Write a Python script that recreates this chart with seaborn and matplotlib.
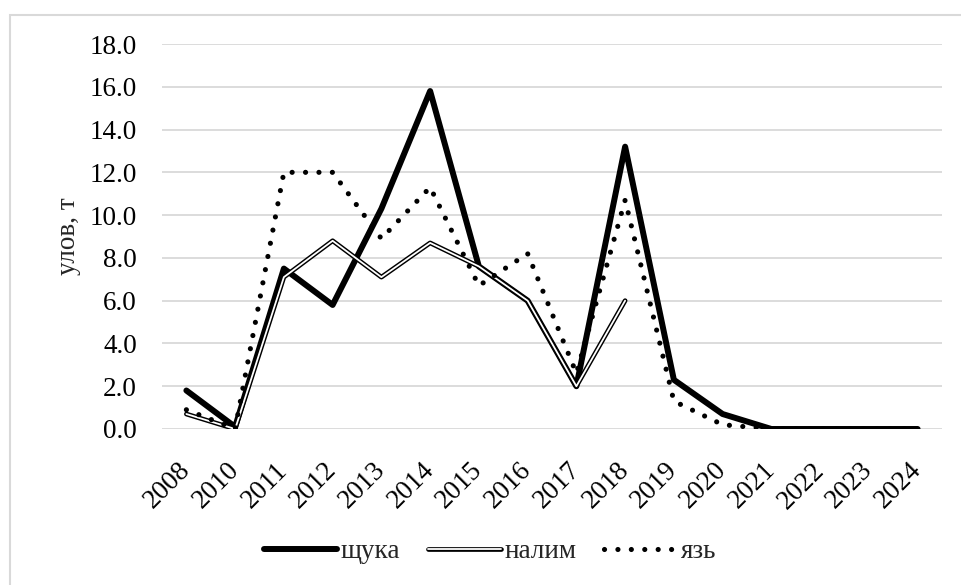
import numpy as np
import pandas as pd
import matplotlib
matplotlib.use('Agg')
import matplotlib.pyplot as plt
import seaborn as sns
from matplotlib.lines import Line2D
from matplotlib.legend_handler import HandlerTuple
from matplotlib.patches import Rectangle
from matplotlib.ticker import FormatStrFormatter

# Data
years = ['2008', '2010', '2011', '2012', '2013', '2014', '2015', '2016',
         '2017', '2018', '2019', '2020', '2021', '2022', '2023', '2024']
pike = [1.8, 0.1, 7.5, 5.8, 10.3, 15.8, 7.6, 6.0,
        2.0, 13.2, 2.3, 0.7, 0.0, 0.0, 0.0, 0.0]
burbot = [0.7, 0.0, 7.1, 8.8, 7.1, 8.7, 7.6, 6.0,
          2.0, 6.0, np.nan, np.nan, np.nan, np.nan, np.nan, np.nan]
ide = [0.9, 0.0, 12.0, 12.0, 8.9, 11.3, 6.7, 8.2,
       2.6, 10.7, 1.3, 0.2, 0.0, 0.0, 0.0, 0.0]
names = ['щука', 'налим', 'язь']
y_ticks = [0, 2, 4, 6, 8, 10, 12, 14, 16, 18]

df = pd.DataFrame({'year': years, 'pike': pike, 'burbot': burbot, 'ide': ide})

sns.set_style('white')
plt.rcParams['font.family'] = ['Liberation Serif', 'DejaVu Serif']

fig = plt.figure(figsize=(9.61, 5.85), dpi=100)
ax = fig.add_axes([162 / 961, 1 - 429 / 585, 780 / 961, 385 / 585])

# chart area border (light gray, Excel style)
fig.patches.append(Rectangle((10 / 961, -0.2), 1.3, 1.2 - 15 / 585,
                             transform=fig.transFigure, fill=False,
                             edgecolor='#d9d9d9', lw=1.5, zorder=0))

dots = (0, (0.01, 2.6))

# щука - thick solid
sns.lineplot(data=df, x='year', y='pike', ax=ax, color='black', lw=4.3,
             sort=False, solid_capstyle='round', zorder=3)
# налим - double line: black outline with white core
sns.lineplot(data=df, x='year', y='burbot', ax=ax, color='black', lw=3.4,
             sort=False, solid_capstyle='round', zorder=4)
sns.lineplot(data=df, x='year', y='burbot', ax=ax, color='white', lw=1.3,
             sort=False, solid_capstyle='round', zorder=5)
# язь - dotted
sns.lineplot(data=df, x='year', y='ide', ax=ax, color='black', lw=3.7,
             sort=False, linestyle=dots, dash_capstyle='round', zorder=6)

ax.set_xlim(-0.5, len(years) - 0.5)
ax.set_ylim(0, 18)
ax.set_yticks(y_ticks)
ax.yaxis.set_major_formatter(FormatStrFormatter('%.1f'))
ax.grid(axis='y', color='#d9d9d9', lw=1.3)
ax.grid(axis='x', visible=False)
for s in ax.spines.values():
    s.set_visible(False)
ax.tick_params(axis='y', length=0, pad=18, labelsize=19.5, labelcolor='black')
ax.tick_params(axis='x', length=0, pad=27, labelsize=19.5, labelcolor='black')
for lab in ax.get_xticklabels():
    lab.set_rotation(45)
    lab.set_rotation_mode('anchor')
    lab.set_ha('right')
    lab.set_va('center')

ax.set_xlabel('')
ax.set_ylabel('улов, т', fontsize=19.5, va='center')
ax.yaxis.set_label_coords(-0.12, 0.5)

h1 = Line2D([], [], color='black', lw=4.3, solid_capstyle='round')
h2a = Line2D([], [], color='black', lw=3.4, solid_capstyle='round')
h2b = Line2D([], [], color='white', lw=1.3, solid_capstyle='round')
h3 = Line2D([], [], color='black', lw=3.7, linestyle=dots,
            dash_capstyle='round')
fig.legend([h1, (h2a, h2b), h3], names, loc='center', ncol=3,
           bbox_to_anchor=(0.51, 1 - 552 / 585), frameon=False,
           fontsize=19.5, handlelength=2.7, handletextpad=0.15,
           columnspacing=1.0,
           handler_map={tuple: HandlerTuple(ndivide=1, pad=0)})

fig.savefig('out.png', dpi=100)
